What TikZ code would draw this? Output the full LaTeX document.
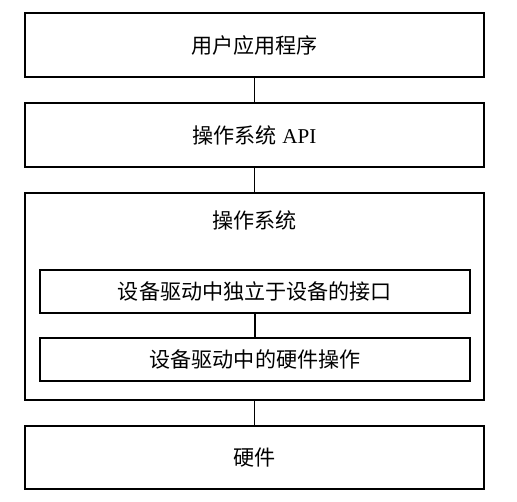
\documentclass[tikz,border=0pt]{standalone}
\usepackage{fontspec}
\setmainfont{Liberation Serif}
\newfontfamily\cjk{Noto Sans CJK SC}
\usepackage{tikz}

\tikzset{
	layerbox/.style={draw,semithick,minimum width=9.18cm,minimum height=1.28cm,inner sep=0pt},
	drvbox/.style={draw,semithick,minimum width=8.6cm,minimum height=0.86cm,inner sep=0pt},
	txt/.style={font=\fontsize{12}{14}\selectfont}
}

\begin{document}
\begin{tikzpicture}
	
	\useasboundingbox (0,0) rectangle (10.34,-10.02);
	
	% Draw layers
	\node[layerbox,txt] (app) at (5.09,-0.9) {\cjk 用户应用程序};
	\node[layerbox,txt] (api) at (5.09,-2.7) {{\cjk 操作系统} API};
	\node[layerbox,minimum height=4.14cm] (os) at (5.09,-5.93) {};
	\node[txt] (oslabel) at (5.09,-4.4) {\cjk 操作系统};
	\node[layerbox,minimum height=1.26cm,txt] (hw) at (5.09,-9.15) {\cjk 硬件};
	
	% Draw driver parts
	\node[drvbox,txt] (drvif) at (5.1,-5.83) {\cjk 设备驱动中独立于设备的接口};
	\node[drvbox,txt] (drvhw) at (5.1,-7.19) {\cjk 设备驱动中的硬件操作};
	
	% Draw links
	\draw[semithick] (app) -- (api);
	\draw[semithick] (api) -- (os);
	\draw[semithick] (drvif) -- (drvhw);
	\draw[semithick] (os) -- (hw);
	
\end{tikzpicture}
\end{document}
